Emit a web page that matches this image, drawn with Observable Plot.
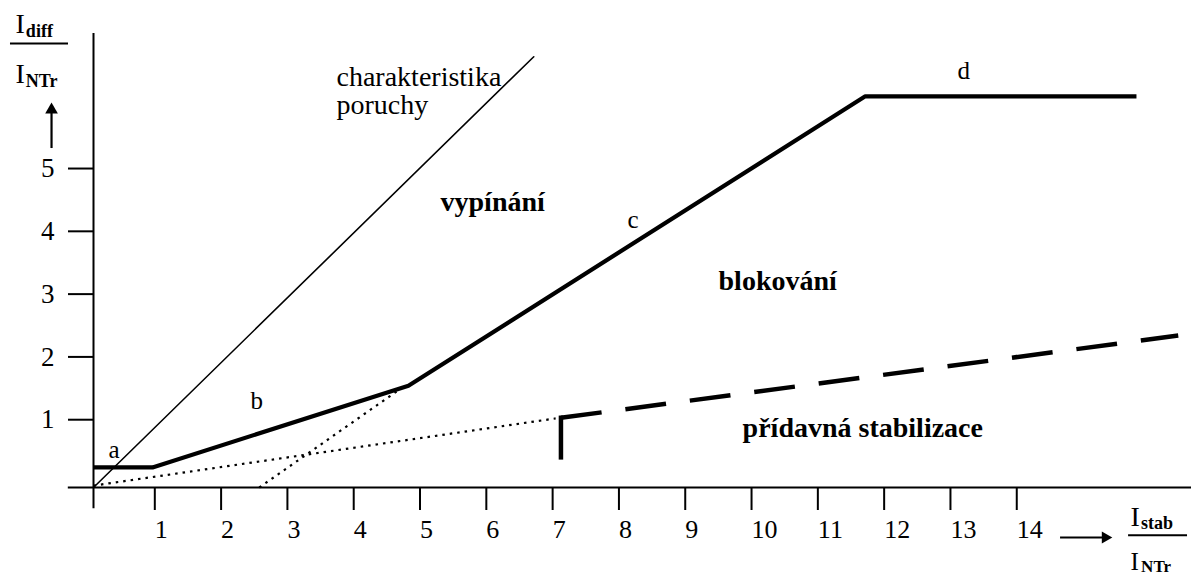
<!DOCTYPE html>
<html><head><meta charset="utf-8">
<script src="https://cdn.jsdelivr.net/npm/d3@7"></script>
<script src="https://cdn.jsdelivr.net/npm/@observablehq/plot@0.6"></script>
<style>html,body{margin:0;padding:0;background:#fff;overflow:hidden}</style>
</head><body><div id="chart"></div>
<script>
// ---- tick values ----
const xTicks = [1,2,3,4,5,6,7,8,9,10,11,12,13,14];
const yTicks = [1,2,3,4,5];

// ---- curves (Istab/INTr , Idiff/INTr) ----
const faultX = [0, 6.64];
const faultY = [0, 6.86];
const tripX = [0, 0.89, 4.75, 11.64, 15.73];
const tripY = [0.32, 0.32, 1.62, 6.23, 6.23];
const aux1X = [0, 6.97];
const aux1Y = [0.03, 1.10];
const aux2X = [2.5, 4.6];
const aux2Y = [0, 1.55];
const stepX = [7.05, 7.05];
const stepY = [0.48, 1.11];
const extraX = [7.05, 16.36];
const extraY = [1.11, 2.42];

// ---- region / segment labels ----
const regText = ["charakteristika", "poruchy", "vypínání", "blokování", "přídavná stabilizace"];
const regX = [3.665, 3.665, 5.234, 9.427, 9.79];
const regY = [6.40, 5.955, 4.41, 3.153, 0.81];
const regBold = [false, false, true, true, true];
const segText = ["a", "b", "c", "d"];
const segX = [0.226, 2.368, 8.054, 13.03];
const segY = [0.462, 1.258, 4.14, 6.51];

const zip = (xs, ys) => xs.map((x, i) => ({x, y: ys[i]}));
const regions = regText.map((t, i) => ({t, x: regX[i], y: regY[i], b: regBold[i]}));
const segs = segText.map((t, i) => ({t, x: segX[i], y: segY[i]}));

const F = "Liberation Serif, Times New Roman, serif";
const lbl = {fontFamily: F, fill: "black", textAnchor: "start", lineAnchor: "bottom"};

const chart = Plot.plot({
  width: 1191, height: 578,
  marginLeft: 93, marginRight: 0, marginTop: 33, marginBottom: 91,
  x: {domain: [0, 16.56]},
  y: {domain: [0, 7.23]},
  style: {fontFamily: F, background: "white", color: "black"},
  marks: [
    // axes lines
    Plot.ruleY([0], {x1: -0.38, x2: 16.56, stroke: "black", strokeWidth: 2}),
    Plot.ruleX([0], {y1: -0.34, y2: 7.23, stroke: "black", strokeWidth: 2}),
    Plot.axisX(xTicks, {anchor: "bottom", tickSize: 23, tickPadding: 9, fontSize: 26, textAnchor: "start", dx: -5, strokeWidth: 2, label: null, tickFormat: d => String(d)}),
    Plot.axisY(yTicks, {anchor: "left", tickSize: 25, tickPadding: 14, fontSize: 27, dy: -5, strokeWidth: 2, label: null, tickFormat: d => String(d)}),
    // curves
    Plot.line(zip(faultX, faultY), {x: "x", y: "y", stroke: "black", strokeWidth: 1.6}),
    Plot.line(zip(aux1X, aux1Y), {x: "x", y: "y", stroke: "black", strokeWidth: 2.2, strokeDasharray: "2.5,5", strokeLinecap: "butt"}),
    Plot.line(zip(aux2X, aux2Y), {x: "x", y: "y", stroke: "black", strokeWidth: 2.2, strokeDasharray: "2.5,5", strokeLinecap: "butt"}),
    Plot.line(zip(tripX, tripY), {x: "x", y: "y", stroke: "black", strokeWidth: 4.2, strokeLinejoin: "miter", strokeLinecap: "butt"}),
    Plot.line(zip(stepX, stepY), {x: "x", y: "y", stroke: "black", strokeWidth: 4.5, strokeLinecap: "square"}),
    Plot.line(zip(extraX, extraY), {x: "x", y: "y", stroke: "black", strokeWidth: 4.5, strokeDasharray: "41,24", strokeLinecap: "butt"}),
    // labels
    Plot.text(regions.filter(d => !d.b), {x: "x", y: "y", text: "t", fontSize: 28, ...lbl}),
    Plot.text(regions.filter(d => d.b), {x: "x", y: "y", text: "t", fontSize: 28, fontWeight: "bold", ...lbl}),
    Plot.text(segs, {x: "x", y: "y", text: "t", fontSize: 25, ...lbl}),
    // y-axis title (fraction + arrow)
    Plot.text(["I"], {x: -1.176, y: 7.245, fontSize: 28, ...lbl}),
    Plot.text(["diff"], {x: -1.02, y: 7.18, fontSize: 18, fontWeight: "bold", ...lbl}),
    Plot.ruleY([7.07], {x1: -1.252, x2: -0.377, stroke: "black", strokeWidth: 2}),
    Plot.text(["I"], {x: -1.176, y: 6.449, fontSize: 28, ...lbl}),
    Plot.text(["NTr"], {x: -1.02, y: 6.385, fontSize: 18, fontWeight: "bold", ...lbl}),
    Plot.ruleX([-0.633], {y1: 5.398, y2: 6.0, stroke: "black", strokeWidth: 2.2}),
    Plot.dot([0], {x: -0.633, y: 6.014, r: 4.7, symbol: "triangle", fill: "black", stroke: null}),
    // x-axis title (arrow + fraction)
    Plot.ruleY([-0.796], {x1: 14.585, x2: 15.27, stroke: "black", strokeWidth: 2.2}),
    Plot.dot([0], {x: 15.26, y: -0.796, r: 4.5, symbol: "triangle", rotate: 90, fill: "black", stroke: null}),
    Plot.text(["I"], {x: 15.641, y: -0.62, fontSize: 28, ...lbl}),
    Plot.text(["stab"], {x: 15.80, y: -0.655, fontSize: 18, fontWeight: "bold", ...lbl}),
    Plot.ruleY([-0.76], {x1: 15.611, x2: 16.5, stroke: "black", strokeWidth: 2}),
    Plot.text(["I"], {x: 15.641, y: -1.32, fontSize: 25, ...lbl}),
    Plot.text(["NTr"], {x: 15.80, y: -1.35, fontSize: 17, fontWeight: "bold", ...lbl})
  ]
});
document.getElementById("chart").appendChild(chart);
</script>
</body></html>
